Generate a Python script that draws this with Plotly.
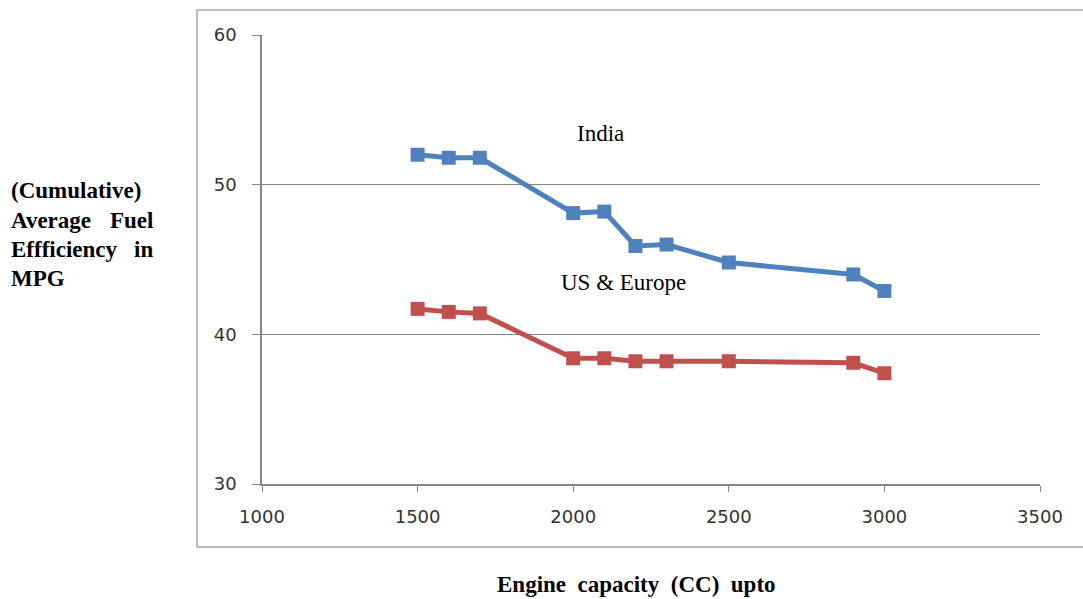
import plotly.graph_objects as go

# Engine capacity (CC) and cumulative average fuel efficiency (MPG)
engine_cc = [1500, 1600, 1700, 2000, 2100, 2200, 2300, 2500, 2900, 3000]
india_mpg = [52.0, 51.8, 51.8, 48.1, 48.2, 45.9, 46.0, 44.8, 44.0, 42.9]
us_europe_mpg = [41.7, 41.5, 41.4, 38.4, 38.4, 38.2, 38.2, 38.2, 38.1, 37.4]

x_ticks = [1000, 1500, 2000, 2500, 3000, 3500]
y_ticks = [30, 40, 50, 60]

BLUE = "#4F81BD"
RED = "#C0504D"
SERIF = "Liberation Serif, Times New Roman, serif"
SANS = "DejaVu Sans, Verdana, sans-serif"

W, H = 1083, 599
ML, MR, MT, MB = 262, 43, 35, 115
PW, PH = W - ML - MR, H - MT - MB


def px_x(px):
    return (px - ML) / PW


def px_y(py):
    return (H - MB - py) / PH


fig = go.Figure()
for name, vals, col in [("India", india_mpg, BLUE), ("US & Europe", us_europe_mpg, RED)]:
    fig.add_trace(go.Scatter(
        x=engine_cc, y=vals, name=name, mode="lines+markers",
        line=dict(color=col, width=5),
        marker=dict(symbol="square", size=14, color=col),
        showlegend=False,
    ))

# Series labels
label_font = dict(family=SERIF, size=23, color="#000000")
fig.add_annotation(xref="paper", yref="paper", x=px_x(600), y=px_y(133),
                   text="India", showarrow=False, yanchor="middle", font=label_font)
fig.add_annotation(xref="paper", yref="paper", x=px_x(623), y=px_y(282),
                   text="US & Europe", showarrow=False, yanchor="middle", font=label_font)

# Y-axis title, justified across lines
title_font = dict(family=SERIF, size=23, color="#000000")
y_lines = [
    (190, ["(Cumulative)"]),
    (220, ["Average", "Fuel"]),
    (249, ["Effficiency", "in"]),
    (278, ["MPG"]),
]
for py, words in y_lines:
    fig.add_annotation(xref="paper", yref="paper", x=px_x(9), y=px_y(py),
                       text="<b>%s</b>" % words[0], showarrow=False,
                       xanchor="left", yanchor="middle", font=title_font)
    if len(words) > 1:
        fig.add_annotation(xref="paper", yref="paper", x=px_x(155), y=px_y(py),
                           text="<b>%s</b>" % words[1], showarrow=False,
                           xanchor="right", yanchor="middle", font=title_font)

# X-axis title
fig.add_annotation(xref="paper", yref="paper", x=px_x(636), y=px_y(584),
                   text="<b>Engine\u00a0\u00a0capacity\u00a0\u00a0(CC)\u00a0\u00a0upto</b>",
                   showarrow=False, xanchor="center", yanchor="middle",
                   font=title_font)

# Chart-area border
fig.add_shape(type="rect", xref="paper", yref="paper",
              x0=px_x(197), x1=px_x(1100), y0=px_y(547), y1=px_y(10),
              line=dict(color="#A6A6A6", width=1.5), layer="below")

fig.update_layout(
    width=W, height=H,
    margin=dict(l=ML, r=MR, t=MT, b=MB, pad=0),
    paper_bgcolor="#FFFFFF", plot_bgcolor="#FFFFFF",
    xaxis=dict(
        range=[1000, 3500], tickvals=x_ticks, ticks="outside", ticklen=6,
        tickcolor="#868686", showline=True, linecolor="#868686", linewidth=1.5,
        showgrid=False, zeroline=False, ticklabelstandoff=10,
        tickfont=dict(family=SANS, size=18, color="#333333"),
    ),
    yaxis=dict(
        range=[30, 60], tickvals=y_ticks, ticks="outside", ticklen=8,
        tickcolor="#868686", showline=True, linecolor="#868686", linewidth=1.5,
        showgrid=True, gridcolor="#868686", gridwidth=1.2, zeroline=False,
        ticklabelstandoff=12,
        tickfont=dict(family=SANS, size=18, color="#333333"),
    ),
)

fig.write_html("out.html")
